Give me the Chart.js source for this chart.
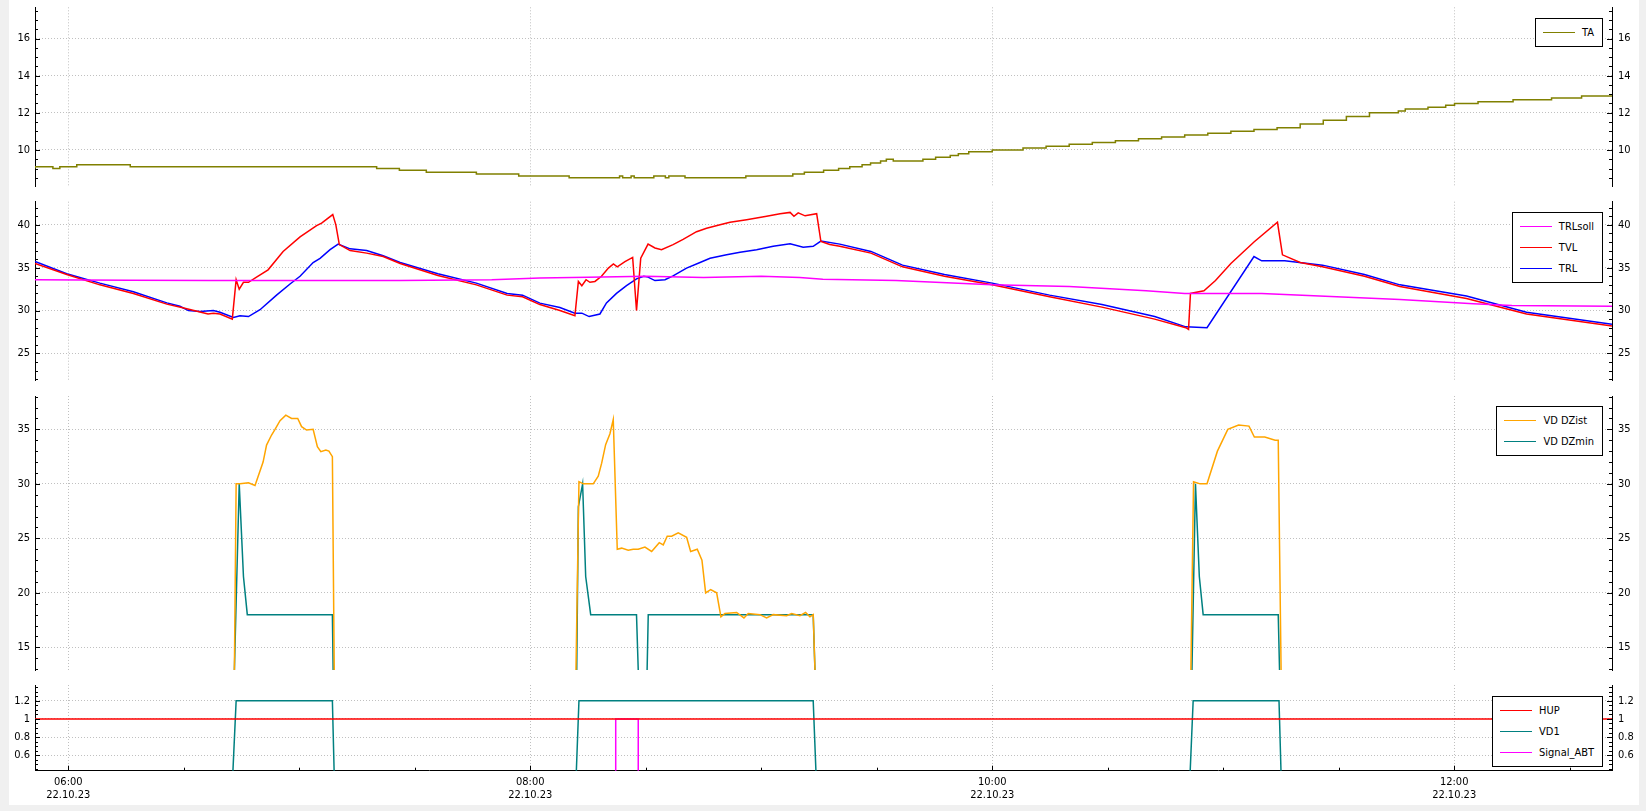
<!DOCTYPE html>
<html>
<head>
<meta charset="utf-8">
<script src="https://cdn.jsdelivr.net/npm/chart.js@4.4.1/dist/chart.umd.min.js"></script>
<style>
html,body{margin:0;padding:0;background:#f0f0f0;width:1646px;height:811px;overflow:hidden;}
#wrap{position:absolute;left:9px;top:0;width:1630px;height:805px;background:#fff;}
#wrap canvas{position:absolute;left:0;}
.legend{position:absolute;right:36px;background:#fff;border:1px solid #000;padding:3px 0;
  font:11px "DejaVu Sans Condensed","Liberation Sans",sans-serif;color:#000;}
.legend .row{height:21px;display:flex;align-items:center;padding:0 8px 0 7px;white-space:nowrap;}
.legend .sw{width:32px;height:0;border-top:1.5px solid;margin-right:7px;}
</style>
</head>
<body>
<div id="wrap">
  <canvas id="c1"></canvas>
  <canvas id="c2"></canvas>
  <canvas id="c3"></canvas>
  <canvas id="c4"></canvas>
  <div class="legend" id="lg1" style="top:18px"></div>
  <div class="legend" id="lg2" style="top:212px"></div>
  <div class="legend" id="lg3" style="top:406px"></div>
  <div class="legend" id="lg4" style="top:696px"></div>
</div>
<script>
// ---------- axis labels ----------
const X_TICK_LABELS = ['06:00', '08:00', '10:00', '12:00'];
const DATE_LABEL = '22.10.23';
const X_RANGE = [351.35, 761.0];          // minutes after midnight
const TA_TICKS = [10, 12, 14, 16];
const T_TICKS = [25, 30, 35, 40];
const VD_TICKS = [15, 20, 25, 30, 35];
const SIG_TICKS = [0.6, 0.8, 1, 1.2];

// ---------- data (time = minutes after midnight, 22.10.23) ----------
// TA (outside temperature), step values
const TA_T = [351.35,356.0,357.8,362.2,376.1,440.1,446.0,453.0,466.0,477.0,490.1,503.2,504.0,506.2,507.0,512.1,515.1,516.0,520.2,536.0,548.2,551.2,556.2,560.1,563.0,566.2,568.4,571.0,572.5,574.3,582.0,585.3,589.1,591.2,593.9,600.0,608,614,620,626,632,638,644,650,656,662,668,674,680,686,692,698,705.5,707.3,713.2,717.8,720.1,726.2,735.3,745.3,753.1,759.2,761];
const TA_V = [9.0,9.1,9.0,9.1,9.2,9.1,9.0,8.9,8.8,8.7,8.6,8.5,8.6,8.5,8.6,8.5,8.6,8.5,8.6,8.5,8.6,8.7,8.8,8.9,9.0,9.1,9.2,9.3,9.4,9.5,9.4,9.5,9.6,9.7,9.8,9.9,10.0,10.1,10.2,10.3,10.4,10.5,10.6,10.7,10.8,10.9,11.0,11.1,11.2,11.4,11.6,11.8,12.0,12.1,12.2,12.3,12.4,12.5,12.6,12.7,12.8,12.9,12.9];

// TRLsoll
const TRLSOLL_T = [351.35,376,397,446,470,482.5,495,510,525,540,550,556,575,600,620,640,650,670,685,705.9,725,735,761];
const TRLSOLL_V = [33.6,33.55,33.5,33.5,33.6,33.8,33.9,34.0,33.85,34.0,33.85,33.65,33.5,33.0,32.8,32.3,32.0,32.0,31.7,31.3,30.8,30.6,30.5];

// TVL
const TVL_T = [351.35,359.6,368.2,376.9,385.6,390.0,396.3,397.7,399.4,402.6,403.6,404.4,405.5,406.8,408.9,411.9,415.8,420.2,424.5,425.8,428.7,429.5,430.4,433.2,437.5,441.8,446.2,456,466,474,478,482.5,487.7,491.6,492.5,493.4,494.5,495.5,496.8,498.5,500.3,501.6,502.6,504.6,506.6,507.6,508.7,510.6,512.4,514.1,517.1,519.7,523.2,525.8,529.3,531.9,536.2,541.4,544.9,547.5,548.5,549.6,551.4,554.4,555.5,557.8,560.4,568.5,576.7,587.6,600,614.9,628.5,642.2,650.3,651.0,651.5,655,658,662,668,674.1,675.4,680,685.8,696.7,705.9,723.2,738.8,761];
const TVL_V = [35.5,34.2,33.0,32.0,30.75,30.3,29.6,29.7,29.6,29.0,33.6,32.5,33.3,33.3,33.9,34.75,36.9,38.6,39.9,40.2,41.2,40.0,37.7,37.0,36.7,36.3,35.5,34.1,33.0,31.8,31.6,30.7,30.0,29.4,33.4,32.9,33.6,33.3,33.4,34.0,34.95,35.45,35.1,35.7,36.2,30.0,36.1,37.75,37.3,37.1,37.7,38.3,39.2,39.6,40.0,40.3,40.6,41.0,41.3,41.45,41.0,41.4,41.05,41.3,38.05,37.7,37.5,36.7,35.1,34.0,33.0,31.6,30.4,29.0,28.0,27.8,32.0,32.3,33.5,35.5,38.0,40.3,36.5,35.6,35.1,34.0,32.8,31.4,29.6,28.2];

// TRL
const TRL_T = [351.35,359.6,368.2,376.9,385.6,389.0,391.2,394.2,397.7,399.4,402.9,404.6,406.8,409.8,414.1,417.6,420.2,423.6,425.4,428.0,430.1,433.2,437.5,441.8,446.2,456,466,474,478,482.5,487.7,491.6,493.4,495.3,498.1,499.8,502.4,505.0,507.6,509.5,510.6,512.4,515.0,517.1,520.6,524.1,526.7,531.0,534.5,538.8,543.1,547.5,550.9,553.5,555.5,560.4,568.5,576.7,587.6,600,614.9,628.5,642.2,650.3,655.8,668,670,676,685.8,696.7,705.9,723.2,738.8,761];
const TRL_V = [35.72,34.29,33.2,32.2,30.9,30.5,30.0,29.9,30.0,29.8,29.2,29.4,29.3,30.1,31.8,33.1,34.0,35.6,36.1,37.1,37.75,37.2,37.0,36.4,35.6,34.3,33.2,32.0,31.8,30.87,30.36,29.7,29.7,29.3,29.6,30.9,32.0,32.9,33.7,34.0,33.9,33.5,33.6,34.05,34.95,35.6,36.1,36.5,36.8,37.1,37.5,37.8,37.4,37.5,38.1,37.75,36.9,35.3,34.2,33.2,31.8,30.7,29.3,28.1,28.0,36.3,35.8,35.8,35.3,34.2,33.0,31.7,29.8,28.4];

// VD DZist
const DZIST_T = [351.35,402.8,403.6,404.6,406.8,408.5,410.6,411.5,412.8,413.7,415.0,416.5,418.0,419.6,420.6,421.9,423.6,424.7,425.6,426.9,427.7,428.6,429.4,491.3,492.65,493.77,496.36,497.66,498.55,499.58,500.70,501.56,502.6,503.74,505.45,506.75,508.05,509.79,511.53,513.51,514.55,515.58,516.73,518.44,520.62,521.66,523.38,524.6,525.56,526.86,528.42,529.53,530.57,533.61,535.51,536.62,539.66,541.4,543.12,546.6,547.9,550.05,551.53,552.65,553.51,555.1,651.1,652.3,654,655.8,658.5,661.2,664.0,666.7,668.1,670.8,673.5,674.3,675.5,761];
const DZIST_V = [0,0,30.0,30.0,30.1,29.85,32.0,33.56,34.48,35.0,35.8,36.3,36.0,36.0,35.25,34.94,35.0,33.4,32.95,33.1,33.0,32.5,0,0,30.2,30.0,30.0,30.7,31.9,33.6,34.6,35.9,24.0,24.1,23.9,24.0,24.0,24.2,23.8,24.6,24.4,25.2,25.2,25.5,25.1,23.8,24.0,23.0,20.0,20.3,20.0,17.8,18.1,18.2,17.7,18.1,18.0,17.7,18.0,17.9,18.1,17.9,18.2,17.8,18.0,0,0,30.2,30.0,30.0,33.0,35.0,35.4,35.3,34.3,34.3,34.0,34.0,0,0];

// VD DZmin
const DZMIN_T = [351.35,402.2,404.4,405.5,406.5,428.6,429.3,491.7,492.5,493.6,494.4,495.7,507.6,509.2,509.6,510.65,553.5,555.1,651.2,652.8,653.8,654.8,674.3,675.5,761];
const DZMIN_V = [0,0,30,21.5,18,18,0,0,27.9,30,21.5,18,18,0,0,18,18,0,0,30,21.5,18,18,0,0];

// HUP, VD1, Signal_ABT
const HUP_T = [351.35, 761];
const HUP_V = [1, 1];
const VD1_T = [351.35,402.3,403.6,428.6,429.3,491.6,492.65,553.5,554.6,651.0,652.2,674.5,675.3,761];
const VD1_V = [0,0,1.2,1.2,0,0,1.2,1.2,0,0,1.2,1.2,0,0];
const ABT_T = [351.35,502.2,502.2,508.05,508.05,761];
const ABT_V = [0,0,1,1,0,0];

// ---------- helpers ----------
const FONT = '"DejaVu Sans Condensed","Liberation Sans",sans-serif';
Chart.defaults.font.family = FONT;
Chart.defaults.font.size = 11;
Chart.defaults.color = '#000';

const pts = (T, V) => T.map((t, i) => ({x: t, y: V[i]}));
const labelToMin = s => { const [h, m] = s.split(':').map(Number); return h * 60 + m; };
const X_TICKS = X_TICK_LABELS.map(labelToMin);

const innerTicks = {
  id: 'innerTicks',
  afterDraw(chart) {
    const o = chart.options.plugins.innerTicks;
    const {ctx, chartArea: a} = chart;
    const y = chart.scales.y;
    ctx.save();
    ctx.strokeStyle = '#000';
    ctx.lineWidth = 1;
    ctx.beginPath();
    const k0 = Math.ceil(y.min / o.minor - 1e-9), k1 = Math.floor(y.max / o.minor + 1e-9);
    for (let k = k0; k <= k1; k++) {
      const len = (k % o.ratio === 0) ? 5 : 3;
      const py = Math.round(y.getPixelForValue(k * o.minor)) + 0.5;
      ctx.moveTo(a.left, py); ctx.lineTo(a.left + len, py);
      ctx.moveTo(a.right, py); ctx.lineTo(a.right - len, py);
    }
    if (o.xTicks) {
      const x = chart.scales.x;
      const m0 = Math.ceil(x.min / 30), m1 = Math.floor(x.max / 30);
      for (let k = m0; k <= m1; k++) {
        const len = (k % 4 === 0) ? 5 : 3;
        const px = Math.round(x.getPixelForValue(k * 30)) + 0.5;
        ctx.moveTo(px, a.bottom); ctx.lineTo(px, a.bottom - len);
      }
    }
    ctx.stroke();
    ctx.restore();
  }
};

function yAxis(pos, range, ticks, width, pad) {
  return {
    type: 'linear', position: pos, min: range[0], max: range[1],
    afterBuildTicks: s => { s.ticks = ticks.map(v => ({value: v})); },
    afterFit: s => { s.width = width; s.paddingTop = 0; s.paddingBottom = 0; },
    grid: {drawTicks: false, color: '#c0c0c0', lineWidth: 1, drawOnChartArea: pos === 'left'},
    border: {display: true, color: '#000', width: 1, dash: [1, 2]},
    ticks: {padding: pad, autoSkip: false, color: '#000', callback: v => String(v)}
  };
}

function makePanel(id, top, height, pad, yRange, yTicks, minor, ratio, datasets, bottom, xAxisH) {
  const cv = document.getElementById(id);
  cv.width = 1630; cv.height = height;
  cv.style.top = top + 'px';
  cv.style.width = '1630px'; cv.style.height = height + 'px';
  return new Chart(cv, {
    type: 'line',
    data: {datasets},
    options: {
      responsive: false, animation: false, events: [],
      devicePixelRatio: 1,
      layout: {padding: {top: pad[0], bottom: pad[1], left: 0, right: 0}},
      elements: {point: {radius: 0}, line: {tension: 0, borderWidth: 1.5}},
      plugins: {legend: {display: false}, tooltip: {enabled: false},
        innerTicks: {minor, ratio, xTicks: bottom}},
      scales: {
        x: {
          type: 'linear', min: X_RANGE[0], max: X_RANGE[1],
          afterBuildTicks: s => { s.ticks = X_TICKS.map(v => ({value: v})); },
          afterFit: s => { s.height = xAxisH; s.paddingLeft = 0; s.paddingRight = 0; },
          grid: {drawTicks: false, color: '#c0c0c0', lineWidth: 1},
          border: {display: bottom, color: '#000', width: 1, dash: [1, 2]},
          ticks: {display: bottom, padding: 5, maxRotation: 0, autoSkip: false, color: '#000',
            callback: (v, i) => [X_TICK_LABELS[i], DATE_LABEL]}
        },
        y: yAxis('left', yRange, yTicks, 26, 5),
        y2: yAxis('right', yRange, yTicks, 27, 6)
      }
    },
    plugins: [innerTicks]
  });
}

function ds(label, T, V, color, extra) {
  return Object.assign({label, data: pts(T, V), borderColor: color, backgroundColor: color,
    fill: false, borderWidth: 1.5, pointRadius: 0}, extra || {});
}

const P1 = [ds('TA', TA_T, TA_V, '#808000', {stepped: 'after'})];
const P2 = [ds('TRLsoll', TRLSOLL_T, TRLSOLL_V, '#ff00ff'),
            ds('TVL', TVL_T, TVL_V, '#ff0000'),
            ds('TRL', TRL_T, TRL_V, '#0000ff')];
const P3 = [ds('VD DZist', DZIST_T, DZIST_V, '#ffa500'),
            ds('VD DZmin', DZMIN_T, DZMIN_V, '#008080')];
const P4 = [ds('HUP', HUP_T, HUP_V, '#ff0000'),
            ds('VD1', VD1_T, VD1_V, '#008080'),
            ds('Signal_ABT', ABT_T, ABT_V, '#ff00ff')];

makePanel('c1', 0, 190, [7.3, 3.3], [8.02, 17.68], TA_TICKS, 0.5, 4, P1, false, 0);
makePanel('c2', 192, 192, [9.7, 4], [21.9, 42.7], T_TICKS, 1, 5, P2, false, 0);
makePanel('c3', 388, 286, [8, 4], [12.92, 38.06], VD_TICKS, 1, 5, P3, false, 0);
makePanel('c4', 677, 128, [8, 0], [0.431, 1.372], SIG_TICKS, 0.05, 4, P4, true, 34.3);

// ---------- HTML legends ----------
function legend(id, sets) {
  const el = document.getElementById(id);
  sets.forEach(d => {
    const r = document.createElement('div'); r.className = 'row';
    const sw = document.createElement('span'); sw.className = 'sw'; sw.style.borderTopColor = d.borderColor;
    const tx = document.createElement('span'); tx.textContent = d.label;
    r.appendChild(sw); r.appendChild(tx); el.appendChild(r);
  });
}
legend('lg1', P1); legend('lg2', P2); legend('lg3', P3); legend('lg4', P4);
</script>
</body>
</html>
